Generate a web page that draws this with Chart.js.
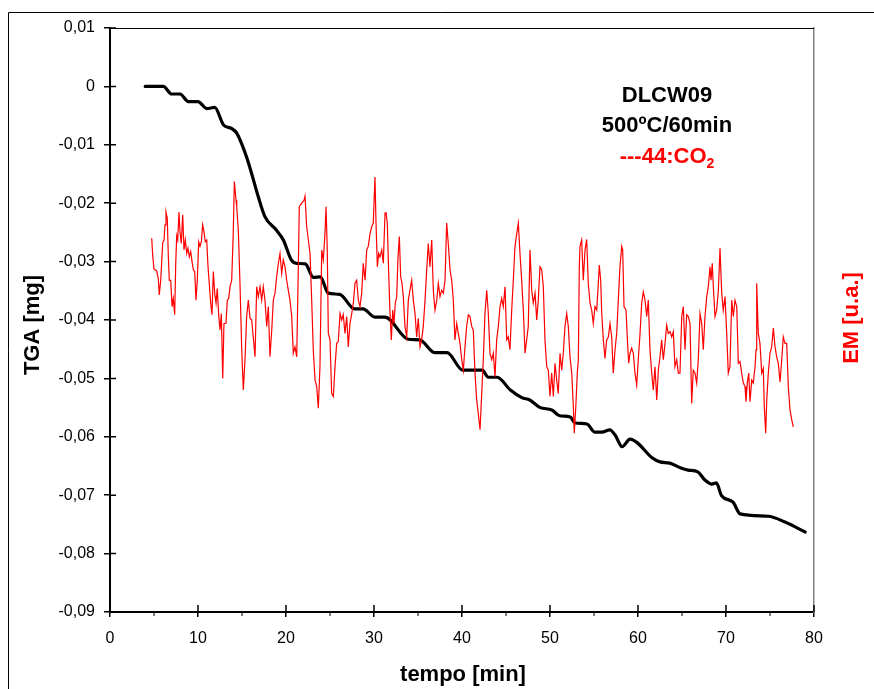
<!DOCTYPE html>
<html>
<head>
<meta charset="utf-8">
<script src="https://cdn.jsdelivr.net/npm/chart.js@4"></script>
<style>
  body { margin: 0; background: #fff; }
</style>
</head>
<body>
<canvas id="tgaChart" width="874" height="689"></canvas>
<script>
// TGA curve (black) - tempo [min] / mass [mg]
const tgaTime = [4.0,6.06,7.0,7.95,8.9,10.0,11.0,11.9,12.9,13.8,
  14.4,15.5,16.3,16.85,17.6,18.9,19.7,20.6,21.2,22.2,
  23.1,23.9,24.8,26.1,27.8,28.75,30.1,31.25,33.9,35.2,
  36.9,38.3,40.1,42.3,43.0,44.0,45.5,46.8,47.7,48.9,
  50.2,51.1,52.3,52.8,54.2,55.1,55.9,56.8,57.4,58.2,
  59.1,59.9,61.6,62.5,63.6,64.8,65.7,66.8,67.6,68.4,
  68.9,69.5,70.8,71.6,74.8,76.7,79.0];
const tgaMass = [0,0,-0.0013,-0.0013,-0.0026,-0.0026,-0.0038,-0.0036,-0.0066,-0.0072,
  -0.008,-0.012,-0.016,-0.0189,-0.0223,-0.0246,-0.0263,-0.0297,-0.0303,-0.0304,
  -0.0327,-0.0326,-0.0354,-0.0356,-0.0381,-0.0381,-0.0395,-0.0395,-0.0433,-0.0434,
  -0.0456,-0.0456,-0.0486,-0.0486,-0.0498,-0.0498,-0.052,-0.0533,-0.0537,-0.055,
  -0.0554,-0.0564,-0.0566,-0.0576,-0.0578,-0.0592,-0.0592,-0.0588,-0.0597,-0.0617,
  -0.0604,-0.061,-0.0636,-0.0643,-0.0645,-0.0653,-0.0657,-0.066,-0.0674,-0.0681,
  -0.0679,-0.0701,-0.0712,-0.0732,-0.0736,-0.0746,-0.0763];

// EM signal 44:CO2 (red), arbitrary units 0-100
const emTime = [4.74,4.85,5.0,5.31,5.49,5.6,5.76,5.88,5.99,6.14,
  6.25,6.36,6.51,6.63,6.74,6.9,7.05,7.19,7.35,7.47,
  7.58,7.69,7.84,7.95,8.1,8.26,8.41,8.56,8.72,8.86,
  9.01,9.17,9.32,9.47,9.63,9.77,9.92,10.08,10.23,10.38,
  10.53,10.68,10.83,10.99,11.14,11.28,11.44,11.59,11.74,11.9,
  12.05,12.19,12.35,12.5,12.65,12.81,12.95,13.18,13.33,13.49,
  13.64,13.83,14.01,14.13,14.32,14.4,14.58,14.77,14.97,15.15,
  15.34,15.53,15.72,15.91,16.1,16.28,16.48,16.67,16.85,17.05,
  17.24,17.42,17.61,17.81,17.99,18.18,18.38,18.56,18.75,18.94,
  19.13,19.32,19.51,19.69,19.89,20.08,20.26,20.45,20.65,20.83,
  21.02,21.22,21.4,21.51,21.78,22.05,22.16,22.35,22.73,22.92,
  23.1,23.3,23.49,23.67,23.86,24.06,24.24,24.43,24.55,24.69,
  24.81,25.0,25.19,25.38,25.57,25.76,25.94,26.14,26.33,26.51,
  26.7,26.9,27.08,27.27,27.47,27.65,27.84,28.03,28.22,28.41,
  28.6,28.78,28.98,29.17,29.35,29.55,29.74,29.92,30.11,30.23,
  30.38,30.53,30.68,30.88,31.06,31.25,31.36,31.51,31.67,31.82,
  31.97,32.13,32.27,32.42,32.58,32.73,32.88,33.03,33.18,33.33,
  33.52,33.72,33.9,34.09,34.28,34.47,34.66,34.85,35.03,35.23,
  35.42,35.6,35.8,35.99,36.17,36.36,36.56,36.74,36.93,37.13,
  37.31,37.5,37.69,37.88,38.07,38.26,38.44,38.64,38.83,39.01,
  39.2,39.4,39.58,39.77,39.97,40.15,40.34,40.53,40.72,40.91,
  41.1,41.28,41.48,41.67,41.85,42.05,42.24,42.42,42.61,42.81,
  42.99,43.18,43.38,43.56,43.75,43.94,44.13,44.32,44.51,44.69,
  44.89,45.08,45.26,45.45,45.65,45.83,46.02,46.22,46.4,46.59,
  46.78,46.97,47.16,47.35,47.53,47.73,47.92,48.1,48.3,48.49,
  48.67,48.86,49.06,49.24,49.43,49.63,49.81,50.0,50.19,50.38,
  50.57,50.76,50.94,51.14,51.33,51.51,51.7,51.9,52.08,52.27,
  52.47,52.65,52.76,52.95,53.1,53.22,53.33,53.41,53.6,53.78,
  53.98,54.17,54.35,54.55,54.74,54.92,55.11,55.31,55.49,55.6,
  55.76,55.88,56.06,56.25,56.44,56.63,56.82,57.01,57.19,57.39,
  57.58,57.76,57.95,58.15,58.26,58.41,58.64,58.78,58.94,59.09,
  59.28,59.47,59.66,59.85,60.03,60.23,60.42,60.6,60.8,60.99,
  61.17,61.36,61.56,61.74,61.93,62.13,62.31,62.5,62.69,62.88,
  63.07,63.26,63.44,63.64,63.83,64.01,64.2,64.4,64.58,64.77,
  64.97,65.15,65.34,65.53,65.72,65.91,66.1,66.28,66.48,66.67,
  66.85,67.05,67.24,67.42,67.61,67.81,67.99,68.18,68.3,68.44,
  68.56,68.75,68.94,69.13,69.32,69.51,69.69,69.89,70.08,70.26,
  70.45,70.65,70.83,71.02,71.22,71.4,71.59,71.78,71.97,72.16,
  72.27,72.42,72.58,72.73,72.92,73.1,73.3,73.41,73.49,73.67,
  73.86,74.06,74.24,74.35,74.51,74.63,74.81,75.0,75.19,75.38,
  75.57,75.76,75.94,76.14,76.33,76.51,76.7,76.9,77.08,77.27,
  77.47,77.65];
const emSignal = [64.0,61.1,58.7,58.4,57.1,54.3,56.8,60.0,63.2,63.7,
  66.3,68.5,67.4,60.8,56.8,56.8,52.3,53.7,50.9,59.7,
  64.4,63.7,68.5,65.1,63.1,68.0,62.0,63.7,61.4,62.3,
  60.8,61.7,60.0,58.6,58.3,53.4,56.8,63.4,62.6,63.4,
  66.3,65.1,63.4,63.7,59.1,56.3,52.9,50.9,58.3,54.6,
  52.9,55.4,50.9,48.3,51.1,40.0,49.4,49.4,53.4,53.7,
  55.7,56.8,65.1,73.7,70.5,69.4,65.4,56.3,44.9,38.0,
  43.2,50.6,53.4,50.3,50.0,47.1,43.7,55.7,54.0,55.7,
  53.4,55.7,53.4,48.9,52.3,43.7,48.3,53.4,54.6,57.4,
  59.7,61.4,58.0,60.3,59.1,56.8,55.1,53.4,50.6,44.3,
  45.4,43.7,59.1,69.4,70.0,70.5,71.2,66.0,61.4,53.4,
  44.9,39.7,38.6,34.9,42.0,62.0,60.3,64.8,69.4,62.0,
  47.7,46.6,37.4,36.9,42.0,46.0,46.3,51.1,50.0,50.9,
  47.7,50.6,45.4,49.4,51.1,52.9,56.3,56.8,53.4,52.3,
  54.6,59.7,56.8,62.0,62.6,64.8,66.0,66.6,74.5,66.6,
  59.1,61.4,60.8,62.0,59.7,68.3,68.5,66.6,58.0,51.1,
  46.6,51.7,49.4,52.9,54.0,60.8,64.3,57.4,56.3,54.0,
  48.9,47.1,53.4,55.1,56.8,53.4,51.1,47.1,50.3,45.4,
  46.6,48.9,53.4,58.6,63.1,59.1,63.7,55.1,51.7,53.4,
  56.3,54.0,55.1,54.6,56.8,66.6,63.1,58.6,56.8,53.4,
  46.6,49.4,47.7,46.0,43.2,41.4,45.4,48.9,50.9,50.6,
  48.9,48.3,40.9,36.3,34.0,31.2,37.4,43.2,51.1,55.1,
  51.1,44.3,43.2,44.3,40.3,46.6,48.9,52.3,53.7,52.3,
  55.7,46.6,47.1,44.9,51.7,56.8,62.6,64.8,66.6,61.4,
  56.8,51.7,44.3,46.6,48.9,62.0,55.1,52.9,54.6,50.0,
  53.4,59.1,58.6,55.7,46.6,42.0,41.4,36.9,40.9,36.9,
  42.6,39.7,37.4,44.3,41.4,44.3,48.9,51.1,48.9,43.7,
  40.9,35.2,30.6,35.7,40.9,43.2,59.1,62.6,63.7,56.8,
  62.0,63.8,56.3,52.9,51.7,49.4,52.3,51.7,56.3,59.4,
  56.8,51.1,46.6,43.4,46.6,47.1,49.4,47.1,40.9,44.9,
  47.7,53.4,59.1,62.6,62.0,52.3,51.7,47.1,42.6,44.3,
  45.2,44.3,40.9,38.9,43.2,47.7,52.9,54.8,53.4,50.6,
  53.4,44.9,40.9,38.0,42.0,36.3,41.4,43.7,46.6,43.2,
  46.0,49.1,47.7,48.0,47.1,48.0,42.0,43.2,40.9,40.9,
  50.6,52.3,44.9,50.9,50.6,49.4,35.7,41.4,40.9,39.2,
  43.2,51.1,49.4,44.9,50.6,54.0,55.7,59.1,56.8,59.7,
  55.7,50.6,51.7,55.1,62.3,54.6,51.7,54.0,47.7,40.9,
  42.0,53.4,50.6,53.4,52.3,42.6,42.9,40.9,39.2,38.6,
  36.0,39.2,40.9,36.0,39.7,39.2,42.0,44.9,56.3,47.7,
  46.0,40.9,41.7,35.2,30.6,36.3,40.9,44.3,45.4,48.6,
  45.4,43.7,42.6,39.4,43.2,47.1,46.0,46.0,38.6,34.6,
  32.9,31.7];

const xRange = [0, 80];
const yRange = [-0.09, 0.01];
const emRange = [0, 100];

const FONT = "Arial, 'Liberation Sans', sans-serif";

const fmtTick = (v) => {
  if (Math.abs(v) < 1e-9) return '0';
  return v.toFixed(2).replace('.', ',');
};

const decor = {
  id: 'decor',
  beforeDraw(chart) {
    const ctx = chart.ctx;
    ctx.save();
    ctx.fillStyle = '#fff';
    ctx.fillRect(0, 0, chart.width, chart.height);
    ctx.restore();
  },
  afterDraw(chart) {
    const { ctx, chartArea: a, scales: { x, y } } = chart;
    ctx.save();
    ctx.strokeStyle = '#000';

    // outer frame
    ctx.lineWidth = 1;
    ctx.beginPath();
    ctx.moveTo(8.5, chart.height);
    ctx.lineTo(8.5, 12.5);
    ctx.lineTo(chart.width, 12.5);
    ctx.stroke();

    // top border of the plot
    ctx.beginPath();
    ctx.moveTo(a.left, a.top + 0.5);
    ctx.lineTo(a.right, a.top + 0.5);
    ctx.stroke();

    // inner halves of the major ticks
    ctx.lineWidth = 1.5;
    ctx.beginPath();
    y.ticks.forEach((t) => {
      const py = y.getPixelForValue(t.value);
      ctx.moveTo(a.left, py);
      ctx.lineTo(a.left + 6, py);
    });
    x.ticks.forEach((t) => {
      const px = x.getPixelForValue(t.value);
      ctx.moveTo(px, a.bottom);
      ctx.lineTo(px, a.bottom - 7);
    });
    ctx.stroke();

    // minor x ticks
    ctx.lineWidth = 1;
    ctx.beginPath();
    for (let v = 5; v < xRange[1]; v += 10) {
      const px = x.getPixelForValue(v);
      ctx.moveTo(px, a.bottom);
      ctx.lineTo(px, a.bottom + 4);
    }
    ctx.stroke();

    // axis titles
    ctx.font = 'bold 22px ' + FONT;
    ctx.textAlign = 'center';
    ctx.textBaseline = 'middle';
    ctx.fillStyle = '#000';
    ctx.fillText('tempo [min]', 463, 675);

    ctx.save();
    ctx.translate(33, 325);
    ctx.rotate(-Math.PI / 2);
    ctx.fillText('TGA [mg]', 0, 0);
    ctx.restore();

    ctx.save();
    ctx.translate(852, 318);
    ctx.rotate(-Math.PI / 2);
    ctx.fillStyle = '#ff0000';
    ctx.fillText('EM [u.a.]', 0, 0);
    ctx.restore();

    // annotation
    const cx = 667;
    ctx.textBaseline = 'alphabetic';
    ctx.fillText('DLCW09', cx, 102);
    ctx.fillText('500ºC/60min', cx, 132);
    ctx.fillStyle = '#ff0000';
    const main = '---44:CO';
    const w1 = ctx.measureText(main).width;
    ctx.font = 'bold 14px ' + FONT;
    const w2 = ctx.measureText('2').width;
    const sx = cx - (w1 + w2) / 2;
    ctx.textAlign = 'left';
    ctx.fillText('2', sx + w1, 168);
    ctx.font = 'bold 22px ' + FONT;
    ctx.fillText(main, sx, 163);

    ctx.restore();
  },
};

new Chart(document.getElementById('tgaChart'), {
  type: 'line',
  data: {
    datasets: [
      {
        label: 'EM 44:CO2',
        data: emTime.map((t, i) => ({ x: t, y: emSignal[i] })),
        yAxisID: 'y2',
        borderColor: '#ff0000',
        borderWidth: 1.2,
        pointRadius: 0,
        tension: 0,
        order: 1,
      },
      {
        label: 'TGA',
        data: tgaTime.map((t, i) => ({ x: t, y: tgaMass[i] })),
        yAxisID: 'y',
        borderColor: '#000',
        borderWidth: 3.2,
        pointRadius: 0,
        cubicInterpolationMode: 'monotone',
        borderJoinStyle: 'round',
        borderCapStyle: 'round',
        order: 2,
      },
    ],
  },
  options: {
    responsive: false,
    animation: false,
    layout: { padding: { top: 28, left: 0, right: 0, bottom: 0 } },
    plugins: { legend: { display: false }, tooltip: { enabled: false } },
    scales: {
      x: {
        type: 'linear',
        min: xRange[0],
        max: xRange[1],
        ticks: { stepSize: 10, color: '#000', font: { family: FONT, size: 16 }, padding: 12, maxRotation: 0 },
        grid: { drawOnChartArea: false, tickLength: 5, color: '#000', lineWidth: 1.5 },
        border: { color: '#000', width: 2 },
        afterFit: (s) => { s.height = 77; },
      },
      y: {
        type: 'linear',
        position: 'left',
        min: yRange[0],
        max: yRange[1],
        ticks: { stepSize: 0.01, color: '#000', font: { family: FONT, size: 16 }, padding: 9, callback: fmtTick },
        grid: { drawOnChartArea: false, tickLength: 6, color: '#000', lineWidth: 1.5 },
        border: { color: '#000', width: 2 },
        afterFit: (s) => { s.width = 110; },
      },
      y2: {
        type: 'linear',
        position: 'right',
        min: emRange[0],
        max: emRange[1],
        ticks: { display: false },
        grid: { drawOnChartArea: false, drawTicks: false },
        border: { color: '#808080', width: 1.5 },
        afterFit: (s) => { s.width = 60; },
      },
    },
  },
  plugins: [decor],
});
</script>
</body>
</html>
